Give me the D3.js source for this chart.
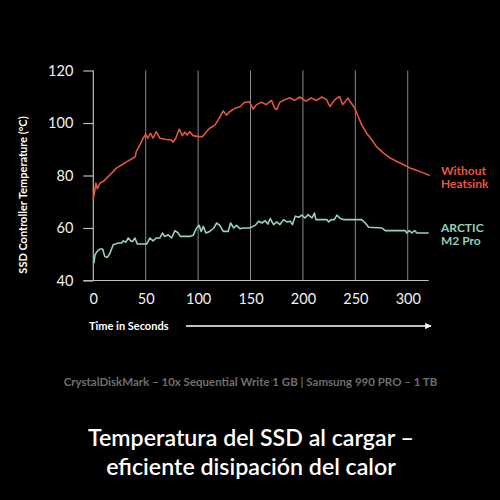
<!DOCTYPE html>
<html lang="en">
<head>
<meta charset="UTF-8">
<title>SSD temperature</title>
<script src="https://d3js.org/d3.v7.min.js"></script>
<style>
    body{margin:0;background:#000;}
    svg{display:block;font-family:Lato,"Noto Sans",sans-serif;}
</style>
</head>
<body>
<div id="chart"></div>
<script>
// seconds / degC
const redT = [0,1.3,2.5,3.8,6.3,9.5,12.7,17.5,22,27,32,36.5,40,41,44.4,47.6,50,52,54.6,57,60,63.5,68,74.6,76,78.7,82,85,87.3,89.5,92,95,100,104,108,111,116,119,124,127,130,135,140,144,149,152.5,155.7,160.4,165,170,173,175,178,182.7,187.5,192,197,202.7,208,213,218,222.5,225.7,230.5,235,238,243,246,249.5,252.7,256,260.7,265.5,270,276.6,283,289.3,295.7,302,308.4,314.8,321];
const redV = [70.8,73.9,77.1,74.9,77.1,77.7,79,80.9,82.8,84,85.3,86.3,87.2,89.1,91.6,94.2,95.7,94.2,96.1,94.2,96.7,94.2,93.8,93.5,92.7,94.2,97.7,95.2,96.5,95.4,96.7,95.2,94.8,94.8,96.7,98,99.2,101.1,104.6,103,104.3,105.6,106.2,107.8,108.1,105.3,107,107.9,107,108.6,105.7,105.1,107.9,108.9,109.6,108.6,109.9,108.3,109.5,108.6,109.9,108.9,106.3,108.9,110.1,107,109.5,107.6,105.7,102.5,99.4,96.2,93.7,91.1,88.6,86.7,85.4,84.2,82.9,82,81,80];

const tealT = [0.6,1.6,3.8,6.4,8.9,11,13.3,15.9,19,24,27,28.6,31,33.4,35.6,37.5,39.7,42,51,54,57,60,63.6,66,68,71.5,74.7,77.9,81,83,87.4,92,95.3,98.5,101,103,105,107.4,111,115,117.6,120.7,124,128.7,131,134,136.6,140,143,149,154.5,157.7,161,164,166.6,168.8,172,175,178,181.5,184.7,188,190,192.7,196,199,202,205,208.6,211,212.4,223,224.5,227,230,232.4,235.6,238.8,256,259.5,262.7,275.4,278.5,297.6,299,301.5,304,306.5,308.8,320];
const tealV = [46.6,49.8,51.1,52,52,49.1,48.8,50.4,53.6,54.3,54.3,55.1,54.6,56.2,55.1,54.9,56.2,53.9,53.9,56.2,55.1,56.2,56.2,58.1,56.8,57.4,56.2,59,58.1,56.8,56.8,56.8,57.2,60,61,58.7,60.6,58.1,58.7,60,61.9,61,58.7,58.7,61.9,60,61,59.7,60,60,61,62.6,61.9,62.8,61.5,63.6,61.3,62.3,61.3,63.2,62.3,62.6,61.3,64.5,64.1,64.9,63.8,65.1,63.8,65.7,63.2,63.2,62.3,63.2,63.2,64.9,63.6,63.2,63.2,61.9,60.3,60,59,59,58.1,59,58.1,59,58.1,58.1];

const yTicks = [40,60,80,100,120];
const xTicks = [0,50,100,150,200,250,300];
const gridX = [50,100,150,200,250,300];

const width = 500, height = 500;
const svg = d3.select('#chart').append('svg')
    .attr('width',width).attr('height',height);
svg.append('rect').attr('width',width).attr('height',height).attr('fill','#000');

const x = d3.scaleLinear().domain([0,320]).range([93.3,428.7]);
const y = d3.scaleLinear().domain([40,120]).range([280.5,70.5]);

// vertical grid lines
svg.append('g').selectAll('line')
    .data(gridX)
    .join('line')
    .attr('x1',d=>x(d)).attr('x2',d=>x(d))
    .attr('y1',y(120)).attr('y2',y(40))
    .attr('stroke','#8a8a8a').attr('stroke-width',1);

// y axis
const yAxis = svg.append('g')
    .attr('transform',`translate(${x(0)-10},0)`)
    .call(d3.axisLeft(y).tickValues(yTicks).tickSize(0).tickPadding(10));
yAxis.select('.domain').remove();
yAxis.selectAll('.tick').append('line')
    .attr('x1',0).attr('x2',10)
    .attr('stroke','#bdbdbd').attr('stroke-width',1.2);
yAxis.selectAll('text')
    .attr('fill','#f2f2f2').attr('font-size',14.5).attr('font-family','Lato');
svg.append('line')
    .attr('x1',x(0)).attr('x2',x(0))
    .attr('y1',y(120)).attr('y2',y(40))
    .attr('stroke','#bdbdbd').attr('stroke-width',1.2);

// x axis
const xAxis = svg.append('g')
    .attr('transform',`translate(0,${y(40)})`)
    .call(d3.axisBottom(x).tickValues(xTicks).tickSize(0).tickPadding(13));
xAxis.select('.domain').remove();
xAxis.selectAll('text')
    .attr('fill','#f2f2f2').attr('font-size',14.5).attr('font-family','Lato');
svg.append('line')
    .attr('x1',x(0)-10).attr('x2',x(320))
    .attr('y1',y(40)).attr('y2',y(40))
    .attr('stroke','#bdbdbd').attr('stroke-width',1.2);

// lines
const line = d3.line().x(d=>x(d[0])).y(d=>y(d[1]));
svg.append('path')
    .datum(tealT.map((t,i)=>[t,tealV[i]]))
    .attr('d',line)
    .attr('fill','none').attr('stroke','#96d3bd').attr('stroke-width',1.6)
    .attr('stroke-linejoin','round');
svg.append('path')
    .datum(redT.map((t,i)=>[t,redV[i]]))
    .attr('d',line)
    .attr('fill','none').attr('stroke','#e2553f').attr('stroke-width',1.6)
    .attr('stroke-linejoin','round');

// series labels
const labels = [
    {lines:['Without','Heatsink'], y:175, color:'#e8553f'},
    {lines:['ARCTIC','M2 Pro'], y:232, color:'#8fd0b9'}
];
labels.forEach(l=>{
    l.lines.forEach((s,i)=>{
        svg.append('text')
            .attr('x',441).attr('y',l.y+i*12.5)
            .attr('fill',l.color).attr('font-weight','bold').attr('font-size',12)
            .text(s);
    });
});

// axis titles
svg.append('text')
    .attr('transform','translate(27,195) rotate(-90)')
    .attr('text-anchor','middle')
    .attr('fill','#fff').attr('font-weight','bold').attr('font-size',11)
    .text('SSD Controller Temperature (°C)');

svg.append('text')
    .attr('x',89).attr('y',330)
    .attr('fill','#fff').attr('font-weight','bold').attr('font-size',11)
    .text('Time in Seconds');

svg.append('defs').append('marker')
    .attr('id','arr').attr('viewBox','0 0 10 10')
    .attr('refX',9).attr('refY',5)
    .attr('markerWidth',4).attr('markerHeight',4)
    .attr('orient','auto')
    .append('path').attr('d','M0,0L10,5L0,10Z').attr('fill','#fff');
svg.append('line')
    .attr('x1',186).attr('x2',431)
    .attr('y1',326).attr('y2',326)
    .attr('stroke','#fff').attr('stroke-width',1.6)
    .attr('marker-end','url(#arr)');

// footnote and title
svg.append('text')
    .attr('x',250.5).attr('y',385.5)
    .attr('text-anchor','middle')
    .attr('fill','#6e6e6e').attr('font-weight','bold').attr('font-size',11.5)
    .text('CrystalDiskMark – 10x Sequential Write 1 GB | Samsung 990 PRO – 1 TB');

svg.append('text')
    .attr('x',251).attr('y',446)
    .attr('text-anchor','middle')
    .attr('fill','#fff').attr('font-weight','600').attr('font-size',23.2)
    .text('Temperatura del SSD al cargar –');
svg.append('text')
    .attr('x',251).attr('y',475)
    .attr('text-anchor','middle')
    .attr('fill','#fff').attr('font-weight','600').attr('font-size',23.2)
    .text('eficiente disipación del calor');
</script>
</body>
</html>
